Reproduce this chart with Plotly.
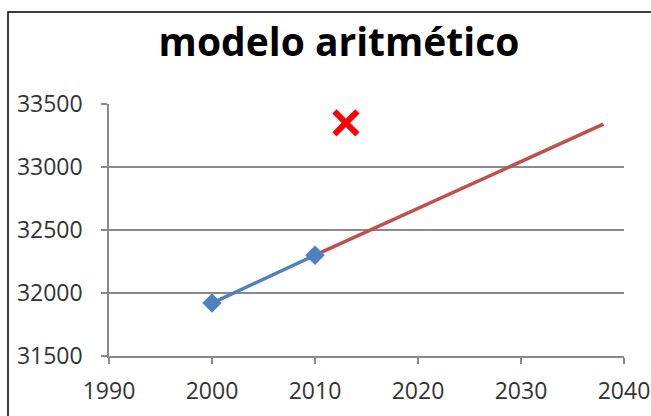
import plotly.graph_objects as go

# Data
obs_years = [2000, 2010]
obs_values = [31920, 32300]

model_years = [2010, 2038]
model_values = [32300, 33340]

actual_year = [2013]
actual_value = [33350]

x_ticks = [1990, 2000, 2010, 2020, 2030, 2040]
y_ticks = [31500, 32000, 32500, 33000, 33500]

fig = go.Figure()

fig.add_trace(go.Scatter(
    x=model_years, y=model_values, mode="lines",
    line=dict(color="#C0504D", width=3.5), showlegend=False,
))
fig.add_trace(go.Scatter(
    x=obs_years, y=obs_values, mode="lines+markers",
    line=dict(color="#4F81BD", width=3.5),
    marker=dict(symbol="diamond", size=15, color="#4F81BD"),
    showlegend=False,
))
fig.add_trace(go.Scatter(
    x=actual_year, y=actual_value, mode="markers",
    marker=dict(symbol="x-thin", size=23, color="#FF0000",
                line=dict(width=6, color="#FF0000")),
    showlegend=False,
))

font_family = "Open Sans, Noto Sans, DejaVu Sans, sans-serif"

fig.update_layout(
    width=651, height=416,
    margin=dict(l=109, r=27, t=104, b=60),
    paper_bgcolor="white", plot_bgcolor="white",
    title=dict(text="<b>modelo aritmético</b>", x=339 / 651, xanchor="center",
               y=1 - 42 / 416, yanchor="middle",
               font=dict(family=font_family, size=39, color="black")),
    font=dict(family=font_family, size=23, color="#333333"),
    xaxis=dict(
        range=[1990, 2040], tickvals=x_ticks, ticktext=[str(v) for v in x_ticks],
        showgrid=False, automargin=False,
        showline=True, linecolor="#898989", linewidth=1.5,
        ticks="outside", ticklen=6, tickcolor="#898989", tickwidth=1.5,
        zeroline=False, tickfont=dict(size=23, color="#333333"),
        ticklabelstandoff=8, ticklabeloverflow="allow",
    ),
    yaxis=dict(
        range=[31500, 33500], tickvals=y_ticks, ticktext=[str(v) for v in y_ticks],
        showgrid=True, gridcolor="#898989", gridwidth=1.5, automargin=False,
        showline=True, linecolor="#898989", linewidth=1.5,
        ticks="outside", ticklen=6, tickcolor="#898989", tickwidth=1.5,
        zeroline=False, tickfont=dict(size=23, color="#333333"),
        ticklabelstandoff=14, ticklabeloverflow="allow",
    ),
    shapes=[dict(type="rect", xref="paper", yref="paper",
                 x0=(8 - 109) / 515, x1=1.3, y0=-0.6, y1=(356 - 12) / 252,
                 line=dict(color="black", width=1.5), layer="above")],
)

fig.write_html("out.html", config={"displayModeBar": False},
               post_script="document.body.style.margin='0';")
